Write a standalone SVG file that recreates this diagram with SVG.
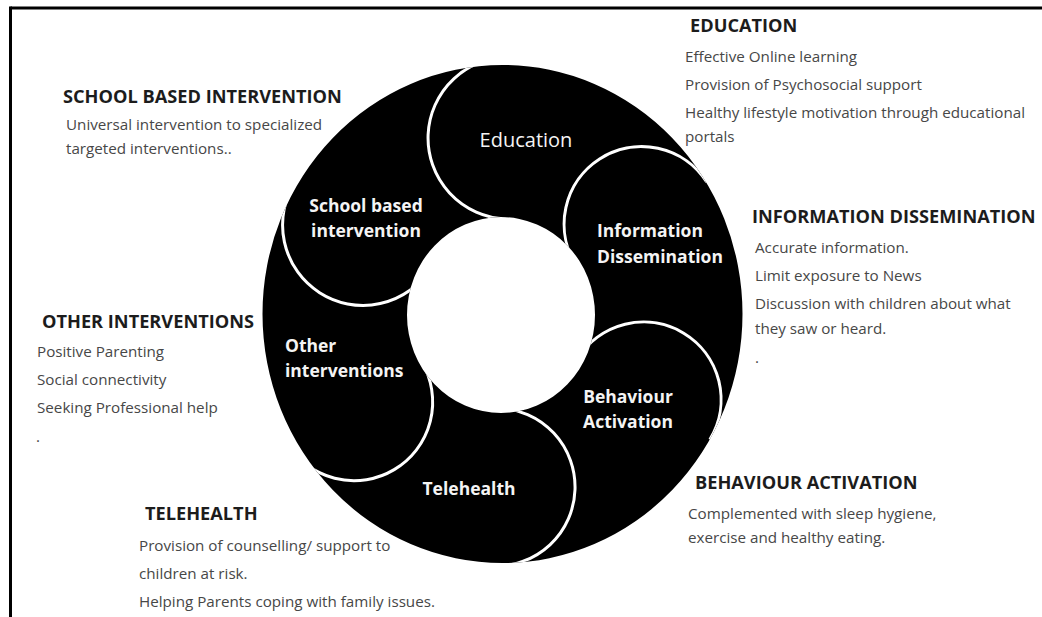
<svg xmlns="http://www.w3.org/2000/svg" width="1042" height="617" viewBox="0 0 1042 617">
  <style>
    .frame { stroke: #000; stroke-width: 3; fill: none; }
    .ring { fill: #000; fill-rule: evenodd; }
    .div { fill: none; stroke: #fff; stroke-width: 3; }
    .lbl { font-family: "Open Sans", "Noto Sans", sans-serif; font-weight: 700; font-size: 17.5px; fill: #f4f4f4; }
    .lbl-reg { font-family: "Open Sans", "Noto Sans", sans-serif; font-weight: 400; font-size: 20px; fill: #f4f4f4; }
    .hd { font-family: "Open Sans", "Noto Sans", sans-serif; font-weight: 700; font-size: 18.2px; fill: #1c1c1c; }
    .tx { font-family: "Open Sans", "Noto Sans", sans-serif; font-weight: 400; font-size: 15.2px; fill: #474747; }
  </style>
  <defs>
    <clipPath id="ringClip">
      <path clip-rule="evenodd" d="M262.5,314 a240,249 0 1,0 480,0 a240,249 0 1,0 -480,0 Z M407,315 a94,98 0 1,0 188,0 a94,98 0 1,0 -188,0 Z"/>
    </clipPath>
  </defs>

  <rect width="1042" height="617" fill="#fff"/>

  <g id="frame">
    <line class="frame" x1="10.5" y1="8" x2="1042" y2="8"/>
    <line class="frame" x1="10.5" y1="6.5" x2="10.5" y2="617"/>
  </g>

  <g id="ring">
    <path class="ring" d="M262.5,314 a240,249 0 1,0 480,0 a240,249 0 1,0 -480,0 Z M407,315 a94,98 0 1,0 188,0 a94,98 0 1,0 -188,0 Z"/>
  </g>

  <g id="connectors" clip-path="url(#ringClip)">
    <path class="div" d="M512.2,57.1 A81,81 0 0,0 428.1,134.8 A81,81 0 0,0 505.8,218.9"/>
    <path class="div" d="M706.7,182.0 A77.5,77.5 0 0,0 599.6,158.9 A77.5,77.5 0 0,0 576.5,266"/>
    <path class="div" d="M709.9,439.6 A77.5,77.5 0 0,0 683.7,333.2 A77.5,77.5 0 0,0 577.3,359.4"/>
    <path class="div" d="M493.3,566 A79,79 0 0,0 575,489.7 A79,79 0 0,0 498.7,408"/>
    <path class="div" d="M286.4,442.2 A78.6,78.6 0 0,0 394.2,469.6 A78.6,78.6 0 0,0 421.6,361.8"/>
    <path class="div" d="M295.3,181.6 A80.4,80.4 0 0,0 319.6,292.7 A80.4,80.4 0 0,0 430.7,268.4"/>
  </g>

  <g id="node-education">
    <text class="lbl-reg" x="526" y="147" text-anchor="middle">Education</text>
  </g>
  <g id="node-information">
    <text class="lbl" x="597" y="237">Information</text>
    <text class="lbl" x="597" y="263">Dissemination</text>
  </g>
  <g id="node-behaviour">
    <text class="lbl" x="628" y="403" text-anchor="middle">Behaviour</text>
    <text class="lbl" x="628" y="428" text-anchor="middle">Activation</text>
  </g>
  <g id="node-telehealth">
    <text class="lbl" x="469" y="495" text-anchor="middle">Telehealth</text>
  </g>
  <g id="node-other">
    <text class="lbl" x="285" y="352">Other</text>
    <text class="lbl" x="285" y="377">interventions</text>
  </g>
  <g id="node-school">
    <text class="lbl" x="366" y="212" text-anchor="middle">School based</text>
    <text class="lbl" x="366" y="237" text-anchor="middle">intervention</text>
  </g>

  <g id="desc-school">
    <text class="hd" x="63" y="103">SCHOOL BASED INTERVENTION</text>
    <text class="tx" x="66" y="130">Universal intervention to specialized</text>
    <text class="tx" x="66" y="154">targeted interventions..</text>
  </g>
  <g id="desc-education">
    <text class="hd" x="690" y="32">EDUCATION</text>
    <text class="tx" x="685" y="62">Effective Online learning</text>
    <text class="tx" x="685" y="90">Provision of Psychosocial support</text>
    <text class="tx" x="685" y="118">Healthy lifestyle motivation through educational</text>
    <text class="tx" x="685" y="142">portals</text>
  </g>
  <g id="desc-information">
    <text class="hd" x="752" y="223">INFORMATION DISSEMINATION</text>
    <text class="tx" x="755" y="253">Accurate information.</text>
    <text class="tx" x="755" y="281">Limit exposure to News</text>
    <text class="tx" x="755" y="309">Discussion with children about what</text>
    <text class="tx" x="755" y="334">they saw or heard.</text>
    <text class="tx" x="755" y="363">.</text>
  </g>
  <g id="desc-other">
    <text class="hd" x="42" y="328">OTHER INTERVENTIONS</text>
    <text class="tx" x="37" y="357">Positive Parenting</text>
    <text class="tx" x="37" y="385">Social connectivity</text>
    <text class="tx" x="37" y="413">Seeking Professional help</text>
    <text class="tx" x="36" y="442">.</text>
  </g>
  <g id="desc-telehealth">
    <text class="hd" x="145" y="520">TELEHEALTH</text>
    <text class="tx" x="139" y="551">Provision of counselling/ support to</text>
    <text class="tx" x="139" y="579">children at risk.</text>
    <text class="tx" x="139" y="607">Helping Parents coping with family issues.</text>
  </g>
  <g id="desc-behaviour">
    <text class="hd" x="695" y="489">BEHAVIOUR ACTIVATION</text>
    <text class="tx" x="688" y="519">Complemented with sleep hygiene,</text>
    <text class="tx" x="688" y="543">exercise and healthy eating.</text>
  </g>
</svg>
